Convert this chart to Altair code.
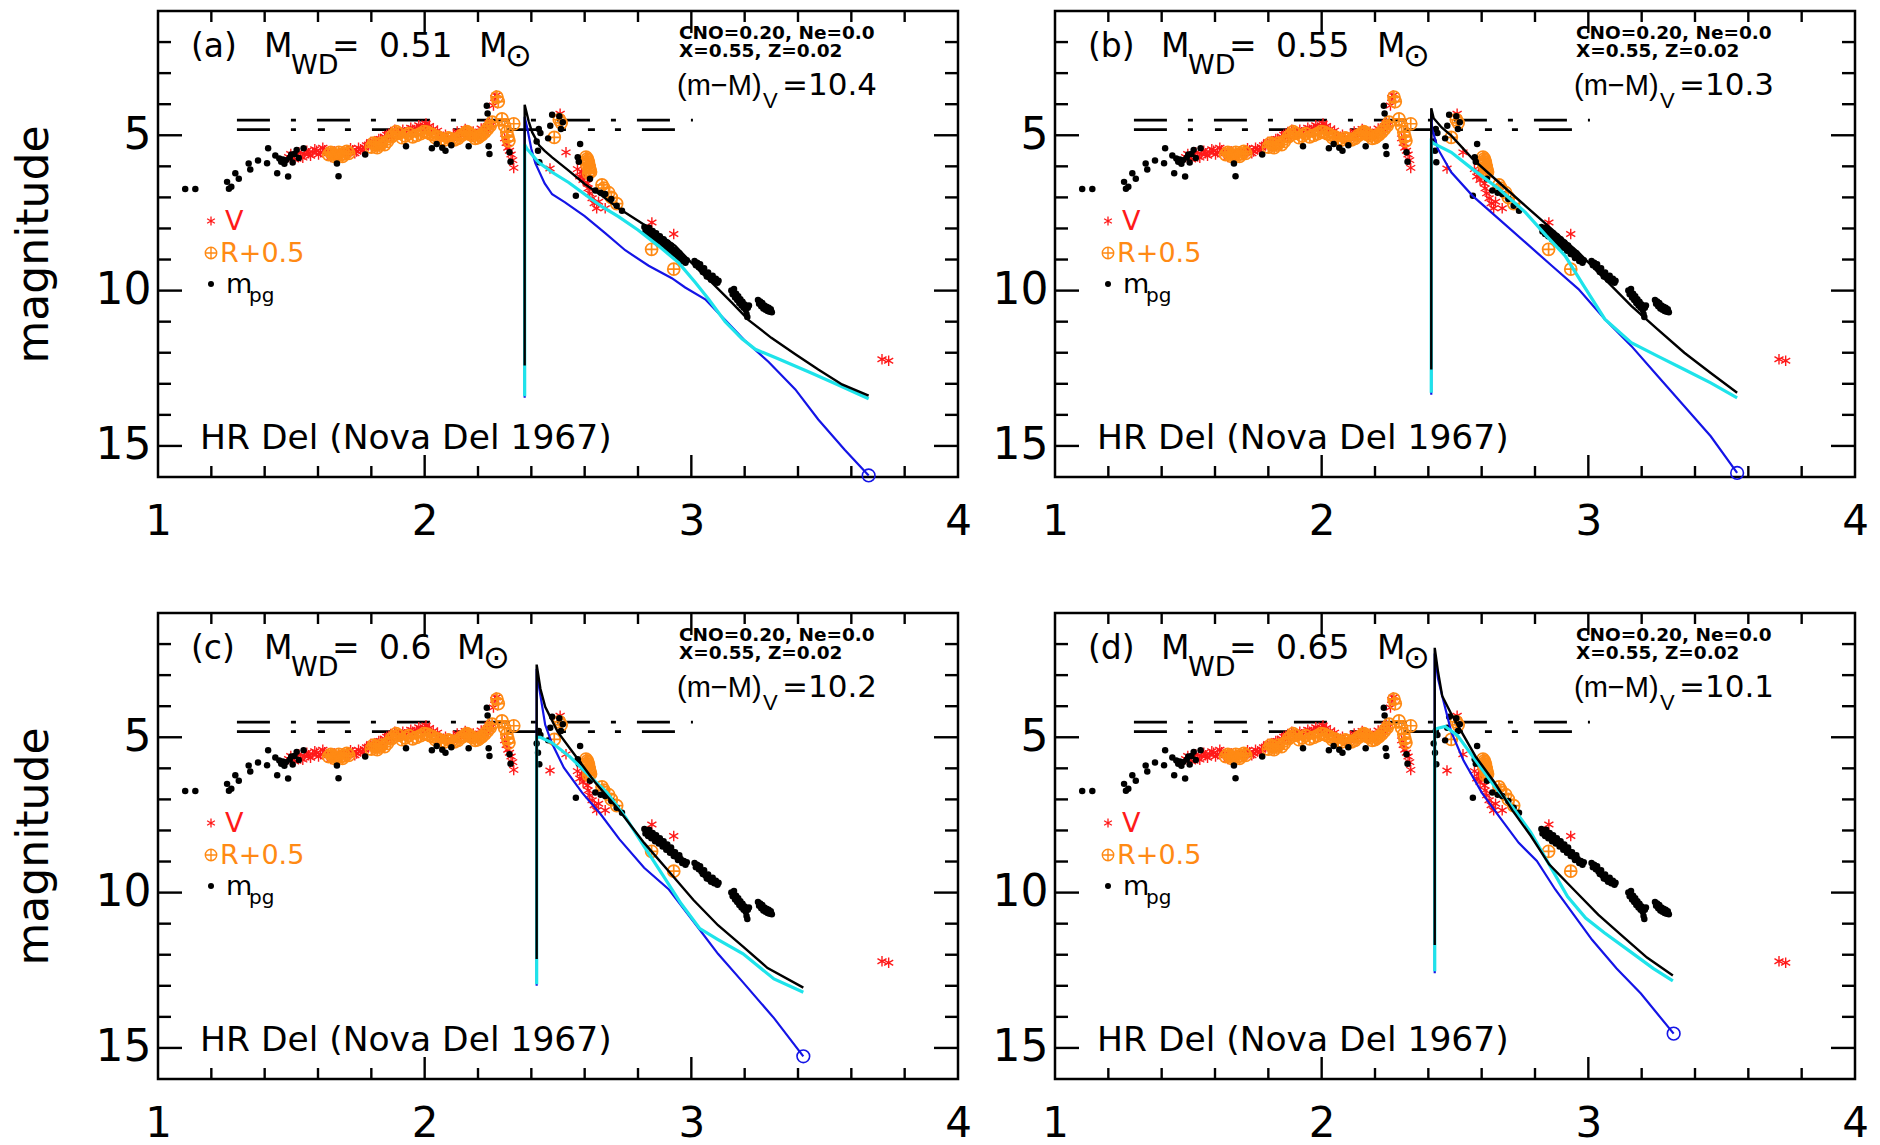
import altair as alt
import pandas as pd

FONT = "DejaVu Sans"
FONT2 = "Liberation Sans"
W, H = 800, 466

# ---------------------------------------------------------------------------
# Observed photometry of HR Del (Nova Del 1967): (log t [day], magnitude)
# ---------------------------------------------------------------------------
MPG = [
    (1.102, 6.73), (1.140, 6.73), (1.259, 6.50), (1.266, 6.72), (1.275, 6.66),
    (1.290, 6.22), (1.303, 6.40), (1.340, 5.91), (1.346, 6.10), (1.375, 5.81),
    (1.409, 5.90), (1.413, 5.42), (1.440, 5.65), (1.447, 6.22), (1.455, 5.75),
    (1.462, 5.85), (1.468, 5.78), (1.474, 5.92), (1.480, 5.80), (1.488, 6.33),
    (1.494, 5.72), (1.500, 5.62), (1.505, 5.88), (1.512, 5.60), (1.520, 5.47),
    (1.528, 5.73), (1.546, 5.42), (1.671, 5.91), (1.677, 6.32), (1.777, 5.62),
    (1.930, 5.35), (2.027, 5.42), (2.045, 5.28), (2.066, 5.40), (2.078, 5.50),
    (2.100, 5.32), (2.165, 5.35), (2.233, 4.05), (2.236, 4.30), (2.240, 5.35),
    (2.243, 5.60), (2.318, 5.55), (2.322, 5.85),
    (2.420, 5.20), (2.425, 5.50), (2.428, 4.80), (2.430, 5.87), (2.434, 4.93),
    (2.463, 5.10), (2.471, 4.69), (2.478, 4.34), (2.505, 4.39), (2.511, 4.80),
    (2.518, 4.58), (2.567, 6.95), (2.574, 5.71), (2.578, 5.85), (2.583, 5.28),
    (2.620, 6.40), (2.640, 6.78), (2.660, 6.85), (2.677, 6.89), (2.700, 7.05),
    (2.720, 7.27), (2.740, 7.43),
    (2.824, 7.95), (2.828, 8.10), (2.833, 8.02), (2.838, 8.18), (2.842, 7.98),
    (2.846, 8.12), (2.850, 8.25), (2.855, 8.08), (2.860, 8.20), (2.864, 8.35),
    (2.868, 8.15), (2.873, 8.28), (2.878, 8.42), (2.882, 8.25), (2.887, 8.38),
    (2.892, 8.52), (2.896, 8.35), (2.901, 8.48), (2.906, 8.62), (2.910, 8.45),
    (2.915, 8.58), (2.920, 8.72), (2.924, 8.55), (2.929, 8.68), (2.934, 8.82),
    (2.939, 8.70), (2.944, 8.85), (2.950, 8.95), (2.955, 8.80), (2.960, 8.92),
    (2.966, 9.05), (2.972, 8.98), (2.978, 9.10), (2.983, 9.02),
    (3.012, 9.05), (3.017, 9.18), (3.022, 9.10), (3.028, 9.25), (3.033, 9.15),
    (3.038, 9.32), (3.043, 9.40), (3.048, 9.28), (3.053, 9.45), (3.058, 9.55),
    (3.063, 9.42), (3.068, 9.58), (3.074, 9.65), (3.080, 9.52), (3.086, 9.70),
    (3.092, 9.62), (3.098, 9.75), (3.102, 9.68),
    (3.150, 10.00), (3.155, 10.12), (3.160, 9.95), (3.164, 10.22), (3.168, 10.10),
    (3.172, 10.30), (3.176, 10.18), (3.180, 10.40), (3.184, 10.28), (3.188, 10.48),
    (3.192, 10.36), (3.196, 10.55), (3.200, 10.45), (3.204, 10.62), (3.207, 10.75),
    (3.210, 10.85), (3.212, 10.55), (3.216, 10.48),
    (3.250, 10.30), (3.254, 10.42), (3.258, 10.35), (3.262, 10.50), (3.266, 10.40),
    (3.270, 10.58), (3.274, 10.48), (3.278, 10.62), (3.282, 10.52), (3.286, 10.66),
    (3.290, 10.55), (3.294, 10.68), (3.298, 10.60), (3.302, 10.70),
]

V_MAG = [
    (1.490, 5.70), (1.498, 5.60), (1.505, 5.72), (1.512, 5.78), (1.520, 5.62),
    (1.528, 5.55), (1.535, 5.68), (1.543, 5.72), (1.550, 5.60), (1.558, 5.50),
    (1.565, 5.58), (1.572, 5.66), (1.580, 5.55), (1.588, 5.45), (1.595, 5.50),
    (1.602, 5.62), (1.610, 5.55), (1.618, 5.40), (1.625, 5.48), (1.632, 5.55),
    (1.640, 5.58), (1.648, 5.70), (1.655, 5.62), (1.662, 5.52), (1.670, 5.60),
    (1.678, 5.70), (1.685, 5.62), (1.692, 5.52), (1.700, 5.58), (1.708, 5.62),
    (1.715, 5.50), (1.722, 5.42), (1.730, 5.48), (1.738, 5.58), (1.745, 5.52),
    (1.752, 5.40), (1.760, 5.45), (1.768, 5.50), (1.775, 5.40), (1.782, 5.32),
    (1.790, 5.30), (1.798, 5.22), (1.805, 5.28), (1.812, 5.35), (1.820, 5.20),
    (1.828, 5.12), (1.835, 5.12), (1.842, 5.20), (1.850, 5.05), (1.858, 4.98),
    (1.865, 4.95), (1.872, 5.05), (1.880, 4.92), (1.888, 4.82), (1.895, 4.88),
    (1.902, 4.98), (1.910, 4.95), (1.918, 4.82), (1.925, 4.90), (1.932, 4.98),
    (1.940, 4.85), (1.948, 4.76), (1.955, 4.82), (1.962, 4.88), (1.970, 4.78),
    (1.978, 4.68), (1.985, 4.75), (1.992, 4.80), (2.000, 4.70), (2.005, 4.62),
    (2.010, 4.78), (2.018, 4.70), (2.025, 4.88), (2.032, 4.80), (2.040, 4.92),
    (2.048, 4.85), (2.055, 5.00), (2.062, 5.10), (2.070, 5.05), (2.078, 4.98),
    (2.085, 5.10), (2.092, 5.18), (2.100, 5.08), (2.108, 5.00), (2.115, 5.02),
    (2.122, 4.88), (2.130, 4.95), (2.138, 5.02), (2.145, 4.88), (2.152, 4.80),
    (2.160, 4.92), (2.168, 4.98), (2.175, 4.98), (2.182, 4.88), (2.190, 4.95),
    (2.198, 5.02), (2.205, 4.90), (2.212, 4.78), (2.220, 4.85), (2.228, 4.90),
    (2.235, 4.70), (2.242, 4.60), (2.250, 4.68), (2.258, 4.04), (2.263, 3.80),
    (2.268, 3.72), (2.300, 5.10), (2.306, 5.25), (2.312, 5.40), (2.318, 5.50),
    (2.324, 5.62), (2.330, 5.80), (2.334, 6.05),
    (2.470, 6.07), (2.508, 4.31), (2.530, 5.55),
    (2.573, 6.09), (2.582, 6.33), (2.588, 6.17), (2.594, 6.44), (2.600, 6.28),
    (2.610, 6.55), (2.613, 6.71), (2.619, 6.87), (2.628, 7.03), (2.636, 7.19),
    (2.645, 7.35), (2.652, 7.14), (2.677, 7.35),
    (2.852, 7.81), (2.934, 8.18), (3.715, 12.21), (3.740, 12.26),
]

R_MAG = [  # R + 0.5
    (1.640, 5.62), (1.648, 5.55), (1.655, 5.60), (1.662, 5.68), (1.670, 5.65),
    (1.678, 5.55), (1.685, 5.62), (1.692, 5.68), (1.700, 5.60), (1.708, 5.52),
    (1.715, 5.58), (1.800, 5.38), (1.808, 5.25), (1.815, 5.30), (1.822, 5.40),
    (1.830, 5.32), (1.838, 5.25), (1.850, 5.30), (1.860, 5.20), (1.875, 5.05),
    (1.885, 4.98), (1.893, 4.88), (1.902, 4.94), (1.915, 5.08), (1.927, 5.02),
    (1.940, 4.95), (1.955, 5.05), (1.970, 5.00), (1.985, 4.95), (1.998, 4.88),
    (2.010, 4.90), (2.020, 4.95), (2.030, 4.98), (2.040, 5.08), (2.050, 5.05),
    (2.062, 5.12), (2.075, 5.15), (2.088, 5.08), (2.100, 5.12), (2.112, 5.15),
    (2.125, 5.10), (2.138, 5.00), (2.150, 4.95), (2.158, 4.88), (2.165, 4.92),
    (2.172, 4.98), (2.180, 5.00), (2.190, 5.10), (2.200, 5.08), (2.208, 5.02),
    (2.215, 4.98), (2.225, 4.90), (2.235, 4.80), (2.245, 4.70), (2.253, 4.58),
    (2.271, 3.77), (2.276, 3.92), (2.290, 4.47), (2.300, 4.70), (2.308, 4.90),
    (2.312, 5.05), (2.316, 5.18), (2.334, 4.63),
    (2.486, 5.07), (2.505, 4.50), (2.512, 4.60), (2.605, 5.70), (2.610, 5.76),
    (2.612, 5.82), (2.614, 5.88), (2.608, 5.95), (2.617, 6.00), (2.618, 6.05),
    (2.620, 6.12), (2.622, 6.18), (2.615, 6.22), (2.665, 6.60), (2.672, 6.70),
    (2.690, 6.85), (2.700, 7.00), (2.720, 7.20), (2.851, 8.67), (2.934, 9.31),
]

# ---------------------------------------------------------------------------
# Model light curves (points in drawing order, starting with the rise)
# ---------------------------------------------------------------------------
BLACK_A = [(2.375, 12.41), (2.375, 4.02), (2.390, 4.55), (2.403, 4.90), (2.430, 5.33),
           (2.450, 5.50), (2.478, 5.71), (2.540, 6.14), (2.600, 6.57), (2.665, 6.95),
           (2.727, 7.35), (2.800, 7.75), (2.877, 8.18), (2.940, 8.56), (3.000, 9.10),
           (3.077, 9.74), (3.152, 10.39), (3.215, 10.95), (3.300, 11.52), (3.390, 12.05),
           (3.476, 12.54), (3.565, 13.02), (3.665, 13.38)]
CYAN_A = [(2.375, 13.40), (2.375, 5.30), (2.384, 5.44), (2.427, 5.87), (2.478, 6.19),
          (2.540, 6.52), (2.600, 6.90), (2.665, 7.30), (2.727, 7.62), (2.800, 8.05),
          (2.877, 8.56), (2.952, 9.10), (3.015, 9.74), (3.065, 10.28), (3.127, 11.00),
          (3.190, 11.55), (3.240, 11.89), (3.330, 12.21), (3.450, 12.65), (3.547, 13.02),
          (3.665, 13.48)]
BLUE_A = [(2.375, 13.45), (2.375, 4.40), (2.384, 4.74), (2.400, 5.44), (2.415, 5.90),
          (2.450, 6.55), (2.478, 6.90), (2.525, 7.15), (2.600, 7.60), (2.677, 8.15),
          (2.752, 8.70), (2.840, 9.20), (2.927, 9.60), (2.977, 9.90), (3.052, 10.28),
          (3.127, 10.95), (3.202, 11.62), (3.290, 12.30), (3.390, 13.18), (3.476, 14.15),
          (3.575, 15.12), (3.665, 15.95)]

BLACK_B = [(2.411, 12.54), (2.411, 4.13), (2.420, 4.45), (2.450, 4.75), (2.486, 5.01),
           (2.566, 5.76), (2.665, 6.52), (2.764, 7.27), (2.863, 8.02), (2.963, 8.77),
           (3.062, 9.63), (3.161, 10.49), (3.260, 11.25), (3.360, 12.00), (3.459, 12.65),
           (3.558, 13.29)]
CYAN_B = [(2.411, 13.29), (2.411, 5.20), (2.423, 5.28), (2.486, 5.55), (2.566, 6.09),
          (2.665, 6.73), (2.764, 7.48), (2.843, 8.24), (2.913, 8.88), (2.983, 9.85),
          (3.062, 10.92), (3.161, 11.68), (3.260, 12.11), (3.360, 12.54), (3.459, 12.97),
          (3.558, 13.45)]
BLUE_B = [(2.411, 13.35), (2.411, 4.30), (2.414, 4.79), (2.436, 5.44), (2.486, 6.19),
          (2.566, 6.95), (2.665, 7.70), (2.764, 8.45), (2.863, 9.20), (2.963, 9.95),
          (3.062, 10.92), (3.161, 11.78), (3.260, 12.75), (3.360, 13.72), (3.459, 14.69),
          (3.558, 15.87)]

BLACK_C = [(2.420, 12.14), (2.420, 2.66), (2.434, 3.44), (2.452, 4.02), (2.499, 4.83),
           (2.568, 5.63), (2.638, 6.44), (2.730, 7.36), (2.823, 8.40), (2.916, 9.32),
           (3.008, 10.24), (3.100, 11.05), (3.194, 11.74), (3.286, 12.43), (3.420, 13.06)]
CYAN_C = [(2.420, 12.95), (2.420, 5.00), (2.434, 5.00), (2.476, 5.17), (2.545, 5.63),
          (2.614, 6.21), (2.684, 6.79), (2.754, 7.59), (2.823, 8.51), (2.893, 9.44),
          (2.962, 10.36), (3.032, 11.16), (3.100, 11.51), (3.194, 11.97), (3.310, 12.78),
          (3.420, 13.21)]
BLUE_C = [(2.420, 13.00), (2.420, 2.80), (2.430, 3.44), (2.452, 4.60), (2.476, 5.17),
          (2.522, 5.98), (2.591, 6.79), (2.660, 7.48), (2.730, 8.28), (2.823, 9.20),
          (2.916, 9.90), (3.008, 10.93), (3.100, 11.97), (3.194, 12.89), (3.310, 14.04),
          (3.420, 15.27)]

BLACK_D = [(2.424, 11.69), (2.424, 2.12), (2.436, 2.87), (2.452, 3.67), (2.486, 4.25),
           (2.532, 4.94), (2.578, 5.63), (2.647, 6.44), (2.716, 7.36), (2.784, 8.17),
           (2.853, 9.09), (2.945, 9.90), (3.037, 10.71), (3.128, 11.40), (3.220, 12.09),
           (3.317, 12.67)]
CYAN_D = [(2.424, 12.53), (2.424, 4.75), (2.436, 4.71), (2.463, 4.65), (2.509, 4.94),
          (2.578, 5.75), (2.647, 6.56), (2.716, 7.25), (2.784, 8.06), (2.853, 9.09),
          (2.922, 10.13), (2.990, 10.82), (3.060, 11.29), (3.151, 11.86), (3.243, 12.44),
          (3.317, 12.84)]
BLUE_D = [(2.424, 12.60), (2.424, 2.30), (2.436, 3.10), (2.452, 3.67), (2.486, 4.83),
          (2.532, 5.75), (2.601, 6.79), (2.670, 7.60), (2.739, 8.40), (2.807, 8.98),
          (2.876, 9.90), (2.945, 10.71), (3.014, 11.52), (3.106, 12.44), (3.197, 13.25),
          (3.320, 14.54)]

MODELS = [(BLACK_A, CYAN_A, BLUE_A), (BLACK_B, CYAN_B, BLUE_B),
          (BLACK_C, CYAN_C, BLUE_C), (BLACK_D, CYAN_D, BLUE_D)]

TAGS = ["(a)", "(b)", "(c)", "(d)"]
MASSES = ["0.51", "0.55", "0.6", "0.65"]
DIST_MOD = ["10.4", "10.3", "10.2", "10.1"]

# horizontal reference bars
BAR_X = [1.296, 3.006]
BAR_Y = [4.51, 4.82]

# axis ticks
X_LABELS = [1, 2, 3, 4]
Y_LABELS = [5, 10, 15]
X_MINOR = [1.2, 1.4, 1.6, 1.8, 2.2, 2.4, 2.6, 2.8, 3.2, 3.4, 3.6, 3.8]
X_MAJOR = [2, 3]
Y_MINOR = [2, 3, 4, 6, 7, 8, 9, 11, 12, 13, 14]
Y_MAJOR = [5, 10, 15]

# x position (pixels inside a panel) of the "M" of the solar-mass unit
SUN_M_X = [321, 322, 299, 322]

ASTER = "M0,-1L0,1M-0.866,-0.5L0.866,0.5M-0.866,0.5L0.866,-0.5"
OPLUS = "M1,0A1,1,0,1,1,-1,0A1,1,0,1,1,1,0M-1,0L1,0M0,-1L0,1"

RED = "#ff1a1a"
ORANGE = "#ff8a14"
CYAN = "#1ee3ea"
BLUE = "#1414e6"

ONE = pd.DataFrame({"k": [0]})


def xy(pts):
    return pd.DataFrame({"x": [p[0] for p in pts], "y": [p[1] for p in pts],
                         "i": list(range(len(pts)))})


def panel(k):
    left = k % 2 == 0
    xs = alt.Scale(domain=[1, 4], nice=False, zero=False)
    ys = alt.Scale(domain=[1, 16], reverse=True, nice=False, zero=False)
    xaxis = alt.Axis(values=X_LABELS, labelFlush=False, title=None)
    yaxis = alt.Axis(values=Y_LABELS, title="magnitude" if left else None)

    def X(f):
        return alt.X(f, type="quantitative", scale=xs, axis=xaxis)

    def Y(f):
        return alt.Y(f, type="quantitative", scale=ys, axis=yaxis)

    def txt(s, px, py, size, color="black", weight="normal", align="left", font=FONT):
        return alt.Chart(ONE).mark_text(
            text=s, font=font, fontSize=size, fontWeight=weight, color=color,
            align=align, baseline="alphabetic").encode(x=alt.value(px), y=alt.value(py))

    layers = []

    # reference bars
    bar_lo = pd.DataFrame({"x": BAR_X, "y": [BAR_Y[0]] * 2})
    bar_hi = pd.DataFrame({"x": BAR_X, "y": [BAR_Y[1]] * 2})
    layers.append(alt.Chart(bar_lo).mark_line(color="black", strokeWidth=2.7,
                                              strokeDash=[33, 21, 5, 21]).encode(x=X("x"), y=Y("y")))
    layers.append(alt.Chart(bar_hi).mark_line(color="black", strokeWidth=2.7,
                                              strokeDash=[33, 21, 5, 22, 7, 20, 6, 21]).encode(x=X("x"), y=Y("y")))

    # observations
    layers.append(alt.Chart(xy(V_MAG)).mark_point(shape=ASTER, size=110, filled=False, color=RED,
                                                  strokeWidth=1.4, opacity=1).encode(x=X("x"), y=Y("y")))
    layers.append(alt.Chart(xy(R_MAG)).mark_point(shape=OPLUS, size=145, filled=False, color=ORANGE,
                                                  strokeWidth=1.7, opacity=1).encode(x=X("x"), y=Y("y")))
    layers.append(alt.Chart(xy(MPG)).mark_point(shape="circle", size=42, filled=True, color="black",
                                                opacity=1).encode(x=X("x"), y=Y("y")))

    # models
    black, cyan, blue = MODELS[k]
    for pts, col, sw in ((blue, BLUE, 2.2), (cyan, CYAN, 3.2), (black, "black", 2.4)):
        layers.append(alt.Chart(xy(pts)).mark_line(color=col, strokeWidth=sw).encode(
            x=X("x"), y=Y("y"), order=alt.Order("i:Q")))
    layers.append(alt.Chart(xy(blue[-1:])).mark_point(shape="circle", size=160, filled=False,
                                                      color=BLUE, strokeWidth=1.6, opacity=1)
                  .encode(x=X("x"), y=Y("y")))

    # inward ticks on all four sides
    for vals, ln in ((X_MINOR, 11), (X_MAJOR, 22)):
        d = pd.DataFrame({"t": vals})
        layers.append(alt.Chart(d).mark_rule(color="black", strokeWidth=2.4).encode(
            x=X("t"), y=alt.value(H), y2=alt.value(H - ln)))
        layers.append(alt.Chart(d).mark_rule(color="black", strokeWidth=2.4).encode(
            x=X("t"), y=alt.value(0), y2=alt.value(ln)))
    for vals, ln in ((Y_MINOR, 13), (Y_MAJOR, 24)):
        d = pd.DataFrame({"t": vals})
        layers.append(alt.Chart(d).mark_rule(color="black", strokeWidth=2.4).encode(
            y=Y("t"), x=alt.value(0), x2=alt.value(ln)))
        layers.append(alt.Chart(d).mark_rule(color="black", strokeWidth=2.4).encode(
            y=Y("t"), x=alt.value(W), x2=alt.value(W - ln)))

    # panel heading
    mx = SUN_M_X[k]
    layers += [
        txt(TAGS[k], 33, 46, 33),
        txt("M", 106, 46, 33),
        txt("WD", 133, 63, 27),
        txt("=", 174, 46, 33),
        txt(MASSES[k], 221, 46, 33),
        txt("M", mx, 46, 33),
        txt("\u2299", mx + 26, 55, 32),
        txt("CNO=0.20, Ne=0.0", 521, 28, 18.5, weight="bold"),
        txt("X=0.55, Z=0.02", 521, 46, 18.5, weight="bold"),
        txt("(m\u2212M)", 519, 84, 29, font=FONT2),
        txt("V", 605, 97, 22, font=FONT2),
        txt("=" + DIST_MOD[k], 719, 84, 31, align="right"),
        txt("HR Del (Nova Del 1967)", 42, 438, 34.5),
    ]

    # legend
    layers += [
        alt.Chart(ONE).mark_point(shape=ASTER, size=80, filled=False, color=RED, strokeWidth=1.3,
                                  opacity=1).encode(x=alt.value(53), y=alt.value(210)),
        txt("V", 67, 219, 27, color=RED),
        alt.Chart(ONE).mark_point(shape=OPLUS, size=130, filled=False, color=ORANGE, strokeWidth=1.4,
                                  opacity=1).encode(x=alt.value(53), y=alt.value(242)),
        txt("R+0.5", 62, 251, 27, color=ORANGE),
        alt.Chart(ONE).mark_point(shape="circle", size=36, filled=True, color="black",
                                  opacity=1).encode(x=alt.value(53), y=alt.value(273)),
        txt("m", 68, 282, 27),
        txt("pg", 91, 291, 20),
    ]

    return alt.layer(*layers).properties(width=W, height=H)


panels = [panel(k) for k in range(4)]
chart = alt.vconcat(
    alt.hconcat(panels[0], panels[1], spacing=17),
    alt.hconcat(panels[2], panels[3], spacing=17),
    spacing=66,
).properties(
    padding={"left": 10, "top": 8, "right": 5, "bottom": 0},
    background="white",
).configure_view(
    stroke="black", strokeWidth=2.5,
).configure_axis(
    grid=False, domain=False, ticks=False,
    labelFont=FONT, labelFontSize=44, labelColor="black",
    titleFont=FONT, titleFontSize=44, titleFontWeight="normal", titleColor="black",
).configure_axisX(
    labelPadding=24, labelFontSize=42,
).configure_axisY(
    labelPadding=7, titlePadding=39,
)

chart.save("out.html", embed_options={"renderer": "svg", "actions": False})
